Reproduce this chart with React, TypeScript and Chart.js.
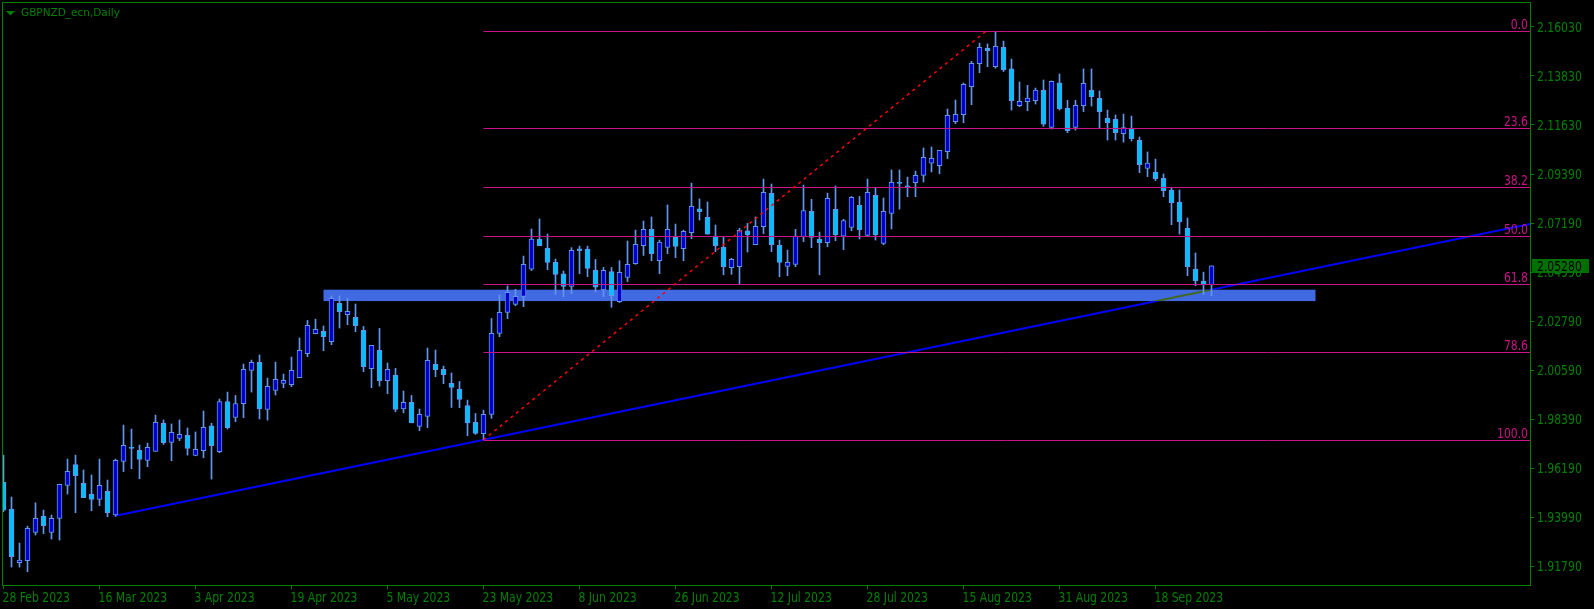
import React, { useEffect, useRef } from "react";
import { Chart, registerables } from "chart.js";

Chart.register(...registerables);

// ---- data (daily candles, GBPNZD, 28 Feb 2023 .. 27 Sep 2023) ----
const opens = [
  1.9556, 1.9436, 1.9195, 1.9204, 1.9331, 1.9404, 1.9331, 1.9394, 1.9542, 1.9636,
  1.9551, 1.9503, 1.9479, 1.9515, 1.9409, 1.9650, 1.9714, 1.9699, 1.9654, 1.9695,
  1.9821, 1.9735, 1.9753, 1.9767, 1.9677, 1.9698, 1.9809, 1.9693, 1.9919, 1.9847,
  1.9909, 2.0059, 2.0095, 1.9883, 1.9969, 2.0000, 1.9994, 2.0026, 2.0134, 2.0223,
  2.0234, 2.0188, 2.0360, 2.0309, 2.0297, 2.0238, 2.0066, 2.0149, 2.0012, 2.0038,
  1.9886, 1.9915, 1.9807, 1.9852, 2.0086, 2.0063, 2.0000, 1.9975, 1.9901, 1.9825,
  1.9774, 1.9861, 2.0225, 2.0319, 2.0355, 2.0391, 2.0513, 2.0649, 2.0608, 2.0544,
  2.0492, 2.0436, 2.0605, 2.0604, 2.0509, 2.0420, 2.0503, 2.0367, 2.0476, 2.0538,
  2.0619, 2.0692, 2.0551, 2.0611, 2.0658, 2.0605, 2.0677, 2.0784, 2.0746, 2.0662,
  2.0611, 2.0520, 2.0524, 2.0685, 2.0623, 2.0704, 2.0854, 2.0620, 2.0526, 2.0535,
  2.0659, 2.0773, 2.0649, 2.0632, 2.0782, 2.0661, 2.0701, 2.0800, 2.0665, 2.0845,
  2.0629, 2.0764, 2.0903, 2.0888, 2.0902, 2.0935, 2.0989, 2.0978, 2.1041, 2.1176,
  2.1207, 2.1333, 2.1437, 2.1505, 2.1423, 2.1510, 2.1413, 2.1248, 2.1266, 2.1270,
  2.1318, 2.1150, 2.1350, 2.1237, 2.1150, 2.1248, 2.1318, 2.1281, 2.1192, 2.1186,
  2.1122, 2.1147, 2.1092, 2.0966, 2.0950, 2.0921, 2.0869, 2.0815, 2.0698, 2.0514,
  2.0460, 2.0442,
];
const highs = [
  1.9678, 1.9490, 1.9283, 1.9359, 1.9464, 1.9431, 1.9409, 1.9547, 1.9660, 1.9678,
  1.9611, 1.9589, 1.9660, 1.9566, 1.9660, 1.9813, 1.9795, 1.9723, 1.9732, 1.9858,
  1.9836, 1.9818, 1.9836, 1.9800, 1.9782, 1.9876, 1.9821, 1.9930, 1.9961, 1.9946,
  2.0087, 2.0105, 2.0128, 2.0024, 2.0096, 2.0042, 2.0119, 2.0204, 2.0283, 2.0289,
  2.0258, 2.0393, 2.0393, 2.0382, 2.0357, 2.0256, 2.0171, 2.0247, 2.0092, 2.0068,
  1.9966, 1.9946, 1.9885, 2.0159, 2.0150, 2.0078, 2.0047, 2.0009, 1.9925, 1.9865,
  1.9880, 2.0292, 2.0397, 2.0438, 2.0423, 2.0572, 2.0694, 2.0739, 2.0671, 2.0559,
  2.0505, 2.0610, 2.0617, 2.0617, 2.0557, 2.0521, 2.0521, 2.0551, 2.0640, 2.0689,
  2.0730, 2.0748, 2.0644, 2.0802, 2.0716, 2.0689, 2.0900, 2.0829, 2.0815, 2.0712,
  2.0658, 2.0562, 2.0697, 2.0719, 2.0748, 2.0918, 2.0896, 2.0644, 2.0599, 2.0692,
  2.0891, 2.0827, 2.0680, 2.0855, 2.0887, 2.0737, 2.0840, 2.0840, 2.0918, 2.0878,
  2.0833, 2.0959, 2.0959, 2.0927, 2.0954, 2.1058, 2.1062, 2.1047, 2.1233, 2.1273,
  2.1350, 2.1447, 2.1529, 2.1525, 2.1582, 2.1538, 2.1457, 2.1354, 2.1339, 2.1327,
  2.1363, 2.1359, 2.1390, 2.1272, 2.1272, 2.1413, 2.1413, 2.1314, 2.1228, 2.1206,
  2.1210, 2.1201, 2.1107, 2.1040, 2.1008, 2.0941, 2.0879, 2.0869, 2.0743, 2.0586,
  2.0500, 2.0528,
];
const lows = [
  1.9424, 1.9175, 1.9175, 1.9154, 1.9319, 1.9325, 1.9301, 1.9296, 1.9503, 1.9419,
  1.9487, 1.9428, 1.9451, 1.9401, 1.9403, 1.9604, 1.9617, 1.9572, 1.9626, 1.9695,
  1.9726, 1.9653, 1.9743, 1.9678, 1.9675, 1.9666, 1.9570, 1.9689, 1.9795, 1.9828,
  1.9846, 1.9961, 1.9840, 1.9835, 1.9948, 1.9981, 1.9985, 2.0026, 2.0120, 2.0223,
  2.0147, 2.0174, 2.0249, 2.0264, 2.0232, 2.0053, 1.9981, 1.9988, 1.9954, 1.9873,
  1.9868, 1.9823, 1.9788, 1.9801, 2.0030, 1.9999, 1.9892, 1.9891, 1.9765, 1.9771,
  1.9747, 1.9843, 2.0210, 2.0291, 2.0349, 2.0345, 2.0507, 2.0619, 2.0511, 2.0400,
  2.0390, 2.0403, 2.0493, 2.0480, 2.0412, 2.0390, 2.0342, 2.0363, 2.0457, 2.0535,
  2.0575, 2.0551, 2.0493, 2.0583, 2.0565, 2.0551, 2.0650, 2.0734, 2.0670, 2.0592,
  2.0488, 2.0490, 2.0448, 2.0590, 2.0623, 2.0673, 2.0592, 2.0479, 2.0484, 2.0524,
  2.0637, 2.0610, 2.0488, 2.0614, 2.0641, 2.0601, 2.0686, 2.0649, 2.0659, 2.0644,
  2.0623, 2.0694, 2.0783, 2.0839, 2.0839, 2.0905, 2.0950, 2.0942, 2.1010, 2.1167,
  2.1171, 2.1252, 2.1396, 2.1423, 2.1416, 2.1401, 2.1228, 2.1243, 2.1225, 2.1255,
  2.1155, 2.1143, 2.1228, 2.1126, 2.1138, 2.1221, 2.1246, 2.1144, 2.1093, 2.1093,
  2.1084, 2.1089, 2.0947, 2.0929, 2.0911, 2.0839, 2.0713, 2.0671, 2.0484, 2.0439,
  2.0400, 2.0394,
];
const closes = [
  1.9431, 1.9222, 1.9207, 1.9349, 1.9394, 1.9361, 1.9394, 1.9547, 1.9605, 1.9586,
  1.9487, 1.9479, 1.9542, 1.9419, 1.9654, 1.9722, 1.9708, 1.9659, 1.9713, 1.9825,
  1.9734, 1.9780, 1.9771, 1.9708, 1.9704, 1.9803, 1.9720, 1.9919, 1.9801, 1.9910,
  2.0063, 2.0095, 1.9886, 1.9987, 2.0018, 2.0014, 2.0059, 2.0149, 2.0261, 2.0243,
  2.0210, 2.0382, 2.0322, 2.0324, 2.0259, 2.0075, 2.0171, 2.0012, 2.0063, 1.9883,
  1.9915, 1.9823, 1.9861, 2.0104, 2.0062, 2.0039, 1.9982, 1.9928, 1.9823, 1.9776,
  1.9861, 2.0225, 2.0319, 2.0409, 2.0391, 2.0535, 2.0649, 2.0619, 2.0544, 2.0490,
  2.0436, 2.0598, 2.0596, 2.0517, 2.0432, 2.0508, 2.0394, 2.0499, 2.0535, 2.0625,
  2.0692, 2.0583, 2.0635, 2.0692, 2.0616, 2.0683, 2.0796, 2.0772, 2.0670, 2.0619,
  2.0524, 2.0557, 2.0688, 2.0667, 2.0706, 2.0858, 2.0623, 2.0544, 2.0544, 2.0662,
  2.0777, 2.0656, 2.0632, 2.0831, 2.0667, 2.0732, 2.0836, 2.0691, 2.0858, 2.0667,
  2.0773, 2.0903, 2.0899, 2.0884, 2.0935, 2.1016, 2.1011, 2.1047, 2.1204, 2.1209,
  2.1344, 2.1438, 2.1510, 2.1495, 2.1514, 2.1408, 2.1270, 2.1267, 2.1282, 2.1318,
  2.1165, 2.1357, 2.1233, 2.1135, 2.1249, 2.1348, 2.1288, 2.1221, 2.1171, 2.1126,
  2.1149, 2.1099, 2.0983, 2.0990, 2.0920, 2.0866, 2.0812, 2.0726, 2.0524, 2.0460,
  2.0445, 2.0528,
];

const dateLabels = [
  "28 Feb 2023", "16 Mar 2023", "3 Apr 2023", "19 Apr 2023", "5 May 2023",
  "23 May 2023", "8 Jun 2023", "26 Jun 2023", "12 Jul 2023", "28 Jul 2023",
  "15 Aug 2023", "31 Aug 2023", "18 Sep 2023",
];
const dateTickIndex = [0, 12, 24, 36, 48, 60, 72, 84, 96, 108, 120, 132, 144];
const priceTicks = [
  2.1603, 2.1383, 2.1163, 2.0939, 2.0719, 2.0499, 2.0279, 2.0059, 1.9839, 1.9619, 1.9399, 1.9179,
];

const fibLevels = [0, 23.6, 38.2, 50, 61.8, 78.6, 100];
const fibLabels = ["0.0", "23.6", "38.2", "50.0", "61.8", "78.6", "100.0"];
const fibLowIndex = 60;
const fibLowPrice = 1.97468;
const fibHighIndex = 122.8;
const fibHighPrice = 2.15819;

const zoneFromIndex = 40;
const zoneToIndex = 164;
const zoneTop = 2.0421;
const zoneBottom = 2.0370;

const trendFromIndex = 14;
const trendFromPrice = 1.9406;
const trendToIndex = 60;
const trendToPrice = 1.9747;

const currentPrice = 2.0528;
const symbolTitle = "GBPNZD_ecn,Daily";

// ---- styles ----
const GREEN = "#008000";
const BULL = "#0000CD";
const BEAR = "#00BFFF";
const OUTLINE = "#6495ED";
const FIB = "#C71585";
const NARROW_FONT = '14px "DejaVu Sans Condensed", "DejaVu Sans", sans-serif';
const NARROW_SX = 0.86;

function narrowText(ctx: CanvasRenderingContext2D, text: string, x: number, y: number, align: CanvasTextAlign) {
  ctx.save();
  ctx.translate(x, y);
  ctx.scale(NARROW_SX, 1);
  ctx.font = NARROW_FONT;
  ctx.textAlign = align;
  ctx.textBaseline = "alphabetic";
  ctx.fillText(text, 0, 0);
  ctx.restore();
}

const overlayPlugin = {
  id: "mtOverlay",
  beforeDraw(chart: any) {
    const ctx = chart.ctx;
    ctx.save();
    ctx.fillStyle = "#000000";
    ctx.fillRect(0, 0, chart.width, chart.height);
    ctx.restore();
  },
  beforeDatasetsDraw(chart: any) {
    const { ctx, chartArea: a, scales } = chart;
    const x = scales.x, y = scales.y;
    ctx.save();
    ctx.beginPath();
    ctx.rect(a.left, a.top, a.right - a.left, a.bottom - a.top);
    ctx.clip();
    // support zone
    const zx1 = x.getPixelForValue(zoneFromIndex);
    const zx2 = x.getPixelForValue(zoneToIndex);
    const zy1 = y.getPixelForValue(zoneTop);
    const zy2 = y.getPixelForValue(zoneBottom);
    ctx.fillStyle = "#4169E1";
    ctx.fillRect(zx1, zy1, zx2 - zx1, zy2 - zy1);
    // trend line (ray), xor-like blend over the zone
    const slope = (trendToPrice - trendFromPrice) / (trendToIndex - trendFromIndex);
    const endIndex = x.max;
    const endPrice = trendToPrice + slope * (endIndex - trendToIndex);
    ctx.globalCompositeOperation = "difference";
    ctx.strokeStyle = "#0000FF";
    ctx.lineWidth = 2;
    ctx.beginPath();
    ctx.moveTo(x.getPixelForValue(trendFromIndex), y.getPixelForValue(trendFromPrice));
    ctx.lineTo(x.getPixelForValue(endIndex), y.getPixelForValue(endPrice));
    ctx.stroke();
    ctx.restore();
  },
  afterDatasetsDraw(chart: any) {
    const { ctx, chartArea: a, scales } = chart;
    const x = scales.x, y = scales.y;
    ctx.save();
    ctx.beginPath();
    ctx.rect(a.left, a.top, a.right - a.left, a.bottom - a.top);
    ctx.clip();
    const fx = x.getPixelForValue(fibLowIndex);
    ctx.strokeStyle = FIB;
    ctx.fillStyle = FIB;
    ctx.lineWidth = 1;
    fibLevels.forEach((lv, k) => {
      const p = fibHighPrice - ((fibHighPrice - fibLowPrice) * lv) / 100;
      const py = Math.round(y.getPixelForValue(p)) + 0.5;
      ctx.beginPath();
      ctx.moveTo(fx, py);
      ctx.lineTo(a.right, py);
      ctx.stroke();
      narrowText(ctx, fibLabels[k], a.right - 2, py - 2.5, "right");
    });
    // dotted fib trend
    ctx.strokeStyle = "#FF0000";
    ctx.lineWidth = 1.5;
    ctx.setLineDash([3, 4]);
    ctx.beginPath();
    ctx.moveTo(fx, y.getPixelForValue(fibLowPrice));
    ctx.lineTo(x.getPixelForValue(fibHighIndex), y.getPixelForValue(fibHighPrice));
    ctx.stroke();
    ctx.restore();
  },
  afterDraw(chart: any) {
    const { ctx, chartArea: a, scales } = chart;
    const x = scales.x, y = scales.y;
    ctx.save();
    // frame
    ctx.strokeStyle = GREEN;
    ctx.lineWidth = 1;
    ctx.strokeRect(a.left + 0.5, a.top + 0.5, a.right - a.left, a.bottom - a.top);
    // axis labels
    ctx.fillStyle = GREEN;
    priceTicks.forEach((p) => {
      narrowText(ctx, p.toFixed(5), a.right + 7, y.getPixelForValue(p) + 5, "left");
    });
    dateTickIndex.forEach((v, k) => {
      narrowText(ctx, dateLabels[k], x.getPixelForValue(v) - 1, a.bottom + 17, "left");
    });
    // title
    ctx.beginPath();
    ctx.moveTo(6, 11);
    ctx.lineTo(15, 11);
    ctx.lineTo(10.5, 15.5);
    ctx.closePath();
    ctx.fill();
    ctx.font = '10.5px "DejaVu Sans", sans-serif';
    ctx.textAlign = "left";
    ctx.textBaseline = "middle";
    ctx.fillText(symbolTitle, 21, 13.5);
    // current price box
    const cy = Math.round(y.getPixelForValue(currentPrice));
    ctx.fillStyle = "#007000";
    ctx.fillRect(a.right + 2, cy - 7, 57, 14);
    ctx.fillStyle = "#000000";
    narrowText(ctx, currentPrice.toFixed(5), a.right + 7, cy + 5, "left");
    ctx.restore();
  },
};

export default function App() {
  const ref = useRef<HTMLCanvasElement | null>(null);

  useEffect(() => {
    if (!ref.current) return;
    const idx = opens.map((_, i) => i);
    const chart = new Chart(ref.current, {
      type: "bar",
      data: {
        datasets: [
          {
            label: "body",
            data: idx.map((i) => ({ x: i, y: [opens[i], closes[i]] })) as any,
            backgroundColor: idx.map((i) => (closes[i] >= opens[i] ? BULL : BEAR)),
            borderColor: OUTLINE,
            borderWidth: 1,
            borderSkipped: false,
            barThickness: 5,
            grouped: false,
            order: 0,
          } as any,
          {
            label: "wick",
            data: idx.map((i) => ({ x: i, y: [lows[i], highs[i]] })) as any,
            backgroundColor: OUTLINE,
            borderWidth: 0,
            barThickness: 1,
            grouped: false,
            order: 1,
          } as any,
        ],
      },
      options: {
        animation: false,
        responsive: false,
        maintainAspectRatio: false,
        layout: { padding: { left: 2, top: 2, right: 0, bottom: 0 } },
        plugins: { legend: { display: false }, tooltip: { enabled: false } },
        scales: {
          x: {
            type: "linear",
            position: "bottom",
            min: -0.1875,
            max: 190.8125,
            offset: false,
            grid: { display: true, drawOnChartArea: false, drawTicks: true, tickLength: 4, color: GREEN, tickColor: GREEN, offset: false } as any,
            border: { display: false },
            ticks: { display: false },
            afterBuildTicks: (s: any) => {
              s.ticks = dateTickIndex.map((v) => ({ value: v }));
            },
            afterFit: (s: any) => {
              s.height = 24;
              s.paddingLeft = 0;
              s.paddingRight = 0;
              s.paddingTop = 0;
              s.paddingBottom = 0;
            },
          } as any,
          y: {
            type: "linear",
            position: "right",
            min: 1.90945,
            max: 2.17135,
            grid: { display: true, drawOnChartArea: false, drawTicks: true, tickLength: 4, color: GREEN, tickColor: GREEN } as any,
            border: { display: false },
            ticks: { display: false },
            afterBuildTicks: (s: any) => {
              s.ticks = priceTicks.map((v) => ({ value: v }));
            },
            afterFit: (s: any) => {
              s.width = 64;
              s.paddingLeft = 0;
              s.paddingRight = 0;
              s.paddingTop = 0;
              s.paddingBottom = 0;
            },
          } as any,
        },
      },
      plugins: [overlayPlugin],
    });
    return () => chart.destroy();
  }, []);

  return (
    <div style={{ position: "absolute", left: 0, top: 0, width: 1594, height: 609, background: "#000" }}>
      <canvas ref={ref} width={1594} height={609} style={{ width: 1594, height: 609, display: "block" }} />
    </div>
  );
}
